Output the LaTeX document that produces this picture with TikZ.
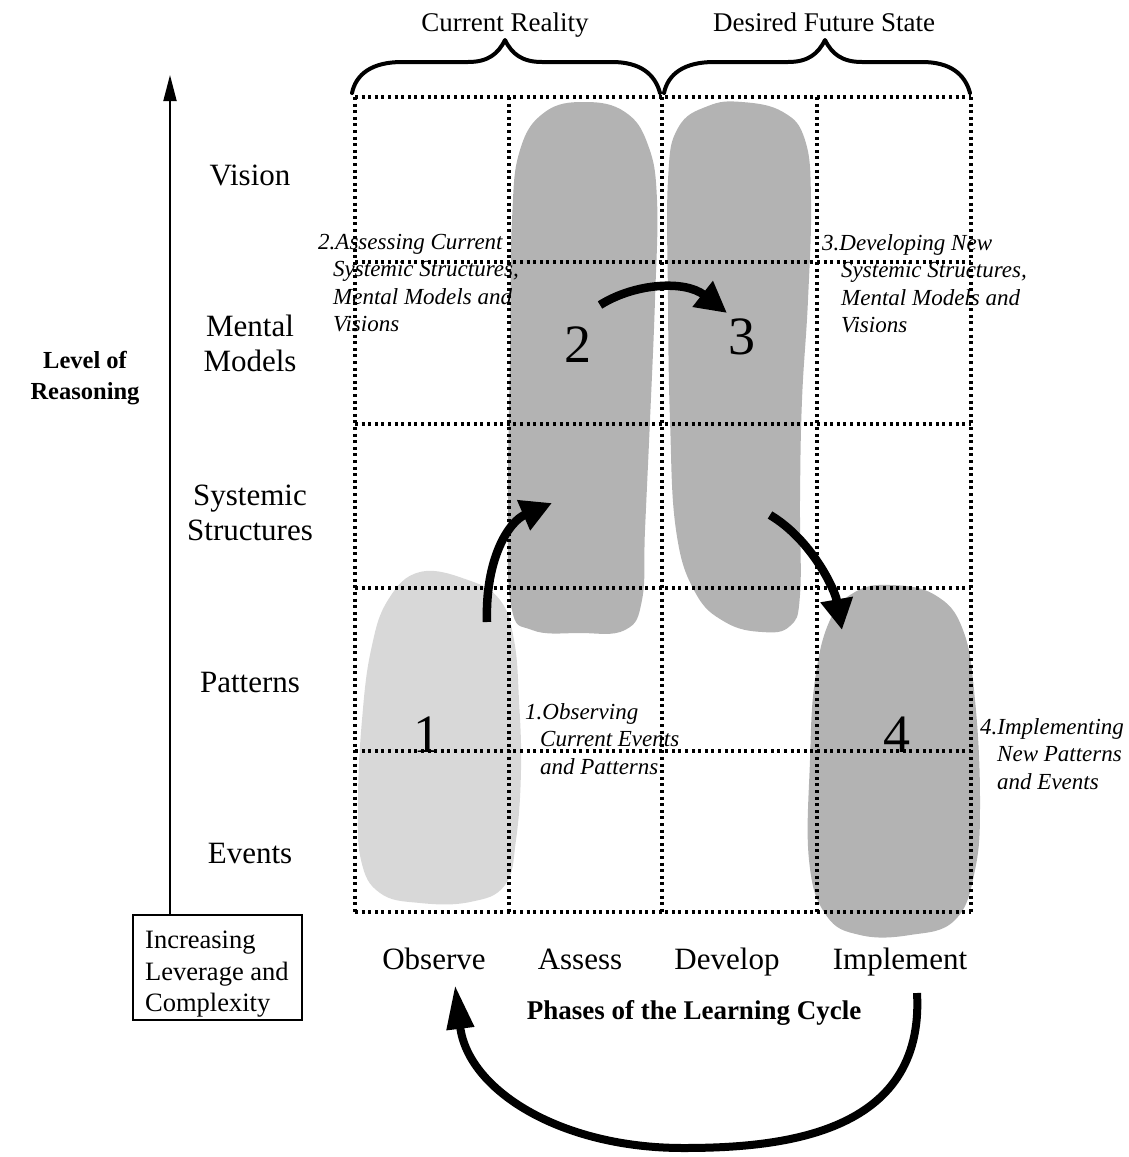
\documentclass[tikz,border=0pt]{standalone}
\usepackage{fontspec}
\setmainfont{Liberation Serif}
\usetikzlibrary{arrows.meta}
\definecolor{blobLight}{HTML}{D8D8D8}
\definecolor{blobDark}{HTML}{B3B3B3}
\begin{document}
\begin{tikzpicture}[x=1pt,y=-1pt,
  gridline/.style={line width=3.2pt, dash pattern=on 3pt off 3.6pt, black},
  bracestyle/.style={line width=4pt, line cap=round, line join=round},
  headtext/.style={font=\fontsize{27}{32}\selectfont, inner sep=0pt, anchor=base},
  rowtext/.style={font=\fontsize{31}{35}\selectfont, align=center, inner sep=0pt},
  coltext/.style={font=\fontsize{31}{35}\selectfont, inner sep=0pt, anchor=base},
  notetext/.style={font=\fontsize{23}{27.5}\selectfont\itshape, align=left, inner sep=0pt, anchor=north west},
  boldtext/.style={font=\fontsize{24.5}{31}\selectfont\bfseries, align=center, inner sep=0pt},
  numtext/.style={font=\fontsize{54}{60}\selectfont, inner sep=0pt},
  flowarrow/.style={line width=8.5pt, -{Triangle[length=31pt,width=31pt]}},
  bigarrow/.style={line width=8pt, -{Triangle[length=44pt,width=26pt]}}
]
\useasboundingbox (0,0) rectangle (1128,1157);

% blobs
\fill[blobLight] plot[smooth cycle, tension=0.7] coordinates {
  (420,572) (468,580) (500,600) (514,640) (519,700) (521,770) (516,840) (505,885)
  (470,902) (420,903) (380,893) (361,860) (358,800) (362,720) (371,650) (388,600)};
\fill[blobDark] plot[smooth cycle, tension=0.7] coordinates {
  (585,102) (625,112) (648,145) (657,200) (655,300) (650,420) (645,530) (642,600)
  (625,630) (580,633) (532,630) (511,605) (508,500) (510,350) (512,220) (520,150) (545,112)};
\fill[blobDark] plot[smooth cycle, tension=0.7] coordinates {
  (742,102) (783,112) (805,140) (811,200) (808,300) (802,400) (800,500) (800,595)
  (790,626) (762,632) (725,622) (695,592) (676,530) (670,420) (668,300) (668,180) (678,128) (708,106)};
\fill[blobDark] plot[smooth cycle, tension=0.7] coordinates {
  (890,585) (935,595) (963,630) (975,700) (980,800) (975,870) (955,920) (910,935)
  (860,935) (826,915) (809,860) (810,760) (815,680) (830,620) (855,592)};

% grid
\foreach \yy in {97,262,424,588,751,912}
  \draw[gridline] (355,\yy) -- (971,\yy);
\foreach \xx in {355,509,662,817,971}
  \draw[gridline] (\xx,97) -- (\xx,912);

% braces
\draw[bracestyle] (352,93) .. controls (356,74) and (372,62) .. (402,62) -- (468,62)
  .. controls (488,62) and (498,54) .. (505,40) .. controls (512,54) and (522,62) .. (542,62)
  -- (612,62) .. controls (640,62) and (655,74) .. (660,93);
\draw[bracestyle] (664,93) .. controls (668,74) and (684,62) .. (714,62) -- (788,62)
  .. controls (808,62) and (818,54) .. (825,40) .. controls (832,54) and (842,62) .. (862,62)
  -- (922,62) .. controls (950,62) and (965,74) .. (970,93);

% header texts
\node[headtext] (cr) at (505,31) {Current Reality};
\node[headtext] (dfs) at (824,31) {Desired Future State};

% row labels
\node[rowtext] (vis) at (250,175) {Vision};
\node[rowtext] (mm) at (250,343) {Mental\\Models};
\node[rowtext] (ss) at (250,513) {Systemic\\Structures};
\node[rowtext] (pat) at (250,682) {Patterns};
\node[rowtext] (ev) at (250,853) {Events};

% column labels
\node[coltext] (obs) at (434,969) {Observe};
\node[coltext] (ass) at (580,969) {Assess};
\node[coltext] (dev) at (727,969) {Develop};
\node[coltext] (imp) at (900,969) {Implement};

\node[boldtext] (lor) at (85,378) {Level of\\Reasoning};
\node[boldtext, font=\fontsize{27}{31}\selectfont\bfseries] (phases) at (694,1013) {Phases of the Learning Cycle};

% box and vertical arrow
\node[draw, line width=1.8pt, minimum width=169pt, minimum height=105pt, inner sep=0pt] (levbox) at (217.5,967.5) {};
\node[font=\fontsize{26.5}{31.5}\selectfont, align=left, inner sep=0pt, anchor=north west] (lev) at (145,931)
  {Increasing\\Leverage and\\Complexity};
\coordinate (vtop) at (170,75);
\draw[line width=1.8pt, -{Triangle[length=26pt,width=13pt]}] (levbox.north west -| vtop) -- (vtop);

% numbers
\node[numtext] (n1) at (427,735) {1};
\node[numtext] (n2) at (578,345) {2};
\node[numtext] (n3) at (742,337) {3};
\node[numtext] (n4) at (897,735) {4};

% notes
\node[notetext] (t2) at (318,234) {2.Assessing Current\\\hspace*{15pt}Systemic Structures,\\\hspace*{15pt}Mental Models and\\\hspace*{15pt}Visions};
\node[notetext] (t3) at (822,234) {3.Developing New\\\hspace*{19pt}Systemic Structures,\\\hspace*{19pt}Mental Models and\\\hspace*{19pt}Visions};
\node[notetext] (t1) at (525,703) {1.Observing\\\hspace*{15pt}Current Events\\\hspace*{15pt}and Patterns};
\node[notetext] (t4) at (980,718) {4.Implementing\\\hspace*{17pt}New Patterns\\\hspace*{17pt}and Events};

% flow arrows
\coordinate (a1s) at (487,622);
\coordinate (a1e) at (552,503);
\coordinate (a2s) at (600,305);
\coordinate (a2e) at (727,313);
\coordinate (a3s) at (770,515);
\coordinate (a3e) at (842,630);
\coordinate (bs) at (917,993);
\coordinate (be) at (455,985);
\draw[flowarrow] (a1s) .. controls (485,560) and (508,522) .. (a1e);
\draw[flowarrow] (a2s) .. controls (635,283) and (685,280) .. (a2e);
\draw[flowarrow] (a3s) .. controls (812,540) and (835,590) .. (a3e);
\draw[bigarrow] (bs) .. controls (925,1135) and (780,1148) .. (683,1148)
  .. controls (560,1148) and (468,1090) .. (be);
\end{tikzpicture}
\end{document}
